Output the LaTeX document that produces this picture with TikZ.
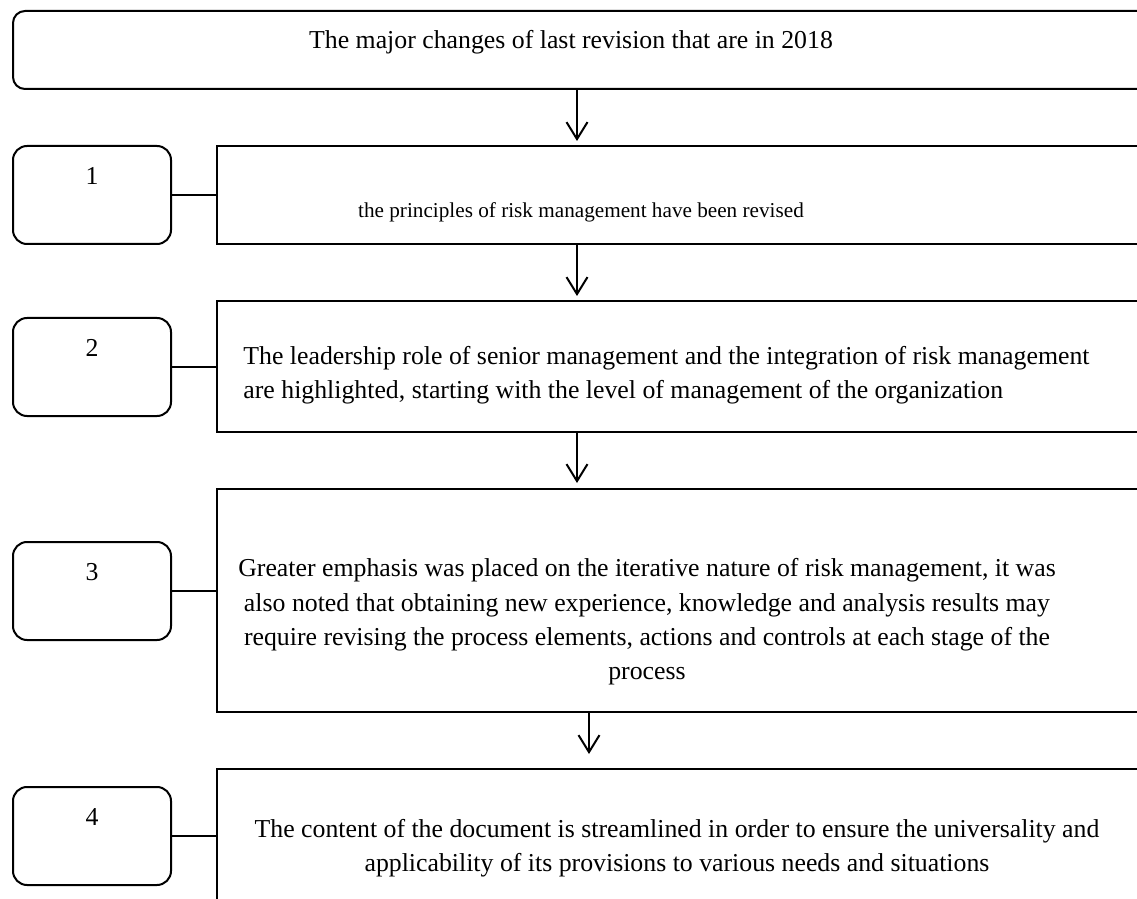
\documentclass[tikz,border=0pt]{standalone}
\usepackage{fontspec}
\setmainfont{Liberation Serif}
\usetikzlibrary{arrows.meta}
\begin{document}
\begin{tikzpicture}[x=0.5pt, y=-0.5pt,
            every node/.style={font=\fontsize{12.9}{17.2}\selectfont},
            headbox/.style={draw, line width=1pt, rounded corners=6pt, minimum width=574pt, minimum height=39pt, anchor=north west},
            numbox/.style={draw, line width=1pt, rounded corners=7pt, minimum width=79pt, minimum height=49pt, anchor=north west},
            itembox/.style={draw, line width=1pt, minimum width=472pt, anchor=north west},
            link/.style={line width=1pt},
            flow/.style={line width=1pt, -{Straight Barb[length=8.5pt, width=10.5pt]}}]
            \useasboundingbox (0,0) rectangle (1137,899);
            \clip (0,0) rectangle (1137,899);
            % boxes
            \node[headbox] (head) at (12,10) {};
            \node[numbox] (n1) at (12,145) {};
            \node[numbox] (n2) at (12,317) {};
            \node[numbox] (n3) at (12,541) {};
            \node[numbox] (n4) at (12,786) {};
            \node[itembox, minimum height=49pt] (b1) at (216,145) {};
            \node[itembox, minimum height=65.5pt] (b2) at (216,300) {};
            \node[itembox, minimum height=111.5pt] (b3) at (216,488) {};
            \node[itembox, minimum height=96pt] (b4) at (216,768) {};
            % numbers
            \node (l1) at ([yshift=-15.5pt]n1.north) {1};
            \node (l2) at ([yshift=-15.5pt]n2.north) {2};
            \node (l3) at ([yshift=-15.5pt]n3.north) {3};
            \node (l4) at ([yshift=-15.5pt]n4.north) {4};
            % texts
            \node (t0) at (571,42) {The major changes of last revision that are in 2018};
            \node[font=\fontsize{10.6}{14}\selectfont] (t1) at (581,212) {the principles of risk management have been revised};
            \node[align=left, anchor=west, inner sep=0pt] (t2) at (243,375) {The leadership role of senior management and the integration of risk management\\are highlighted, starting with the level of management of the organization};
            \node[align=center] (t3) at (647,622) {Greater emphasis was placed on the iterative nature of risk management, it was\\also noted that obtaining new experience, knowledge and analysis results may\\require revising the process elements, actions and controls at each stage of the\\process};
            \node[align=center] (t4) at (677,848) {The content of the document is streamlined in order to ensure the universality and\\applicability of its provisions to various needs and situations};
            % connectors
            \draw[link] (n1.east) -- (n1.east -| b1.west);
            \draw[link] (n2.east) -- (n2.east -| b2.west);
            \draw[link] (n3.east) -- (n3.east -| b3.west);
            \draw[link] (n4.east) -- (n4.east -| b4.west);
            \coordinate (ax) at (577,0);
            \coordinate (bx) at (589,0);
            \draw[flow] (ax |- head.south) -- ([yshift=2pt]ax |- b1.north);
            \draw[flow] (ax |- b1.south) -- ([yshift=2pt]ax |- b2.north);
            \draw[flow] (ax |- b2.south) -- ([yshift=2.5pt]ax |- b3.north);
            \draw[flow] (bx |- b3.south) -- ([yshift=7pt]bx |- b4.north);
\end{tikzpicture}
\end{document}
